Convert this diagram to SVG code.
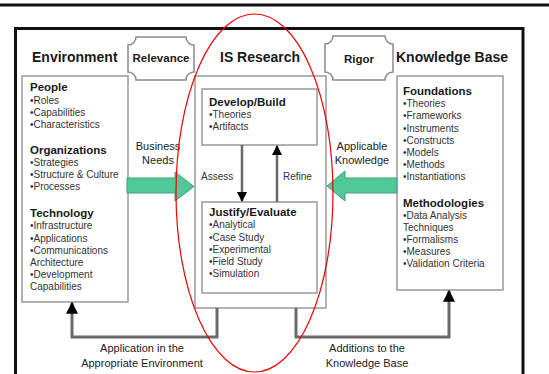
<svg xmlns="http://www.w3.org/2000/svg" width="549" height="374" viewBox="0 0 549 374">
<defs>
<style>
.hdr{font-family:"Liberation Sans",Arial,sans-serif;font-weight:bold;font-size:14px;fill:#1a1a1a}
.tag{font-family:"Liberation Sans",Arial,sans-serif;font-weight:bold;font-size:11.5px;fill:#1a1a1a;text-anchor:middle}
.ttl{font-family:"Liberation Sans",Arial,sans-serif;font-weight:bold;font-size:11.5px;fill:#1a1a1a}
.itm{font-family:"Liberation Sans",Arial,sans-serif;font-size:10px;fill:#333}
.lbl{font-family:"Liberation Sans",Arial,sans-serif;font-size:11px;fill:#222;text-anchor:middle}
.sml{font-family:"Liberation Sans",Arial,sans-serif;font-size:10px;fill:#333}
.box{fill:#fff;stroke:#999;stroke-width:1.5}
.plq{fill:#fff;stroke:#8a8a8a;stroke-width:1.5}
.con{fill:none;stroke:#6a6a6a;stroke-width:3}
.inn{fill:none;stroke:#6a6a6a;stroke-width:2.5}
.grn{fill:#4fc999;stroke:#3e9f7b;stroke-width:1}
</style>
<marker id="ah" viewBox="0 0 10 10" refX="9" refY="5" markerWidth="4" markerHeight="4" markerUnits="strokeWidth" orient="auto">
<path d="M0,0 L10,5 L0,10 Z" fill="#000"/>
</marker>
</defs>
<rect x="0" y="0" width="549" height="374" fill="#fff"/>
<line x1="0" y1="5" x2="549" y2="5" stroke="#111" stroke-width="3"/>
<path d="M15.5,380 V28.5 H523 V380" fill="none" stroke="#111" stroke-width="3"/>

<g id="headers">
<text class="hdr" x="32" y="62">Environment</text>
<text class="hdr" x="220" y="62">IS Research</text>
<text class="hdr" x="396" y="62">Knowledge Base</text>
</g>

<g id="relevance">
<path class="plq" d="M136,37 H186 A8,8 0 0 0 194,45 V72 A8,8 0 0 0 186,80 H136 A8,8 0 0 0 128,72 V45 A8,8 0 0 0 136,37 Z"/>
<text class="tag" x="161" y="62">Relevance</text>
</g>
<g id="rigor">
<path class="plq" d="M333,36 H385 A8,8 0 0 0 393,44 V72 A8,8 0 0 0 385,80 H333 A8,8 0 0 0 325,72 V44 A8,8 0 0 0 333,36 Z"/>
<text class="tag" x="359" y="63">Rigor</text>
</g>

<g id="environment">
<rect class="box" x="22" y="76" width="106" height="226"/>
<text class="ttl" x="30" y="91">People</text>
<text class="itm" x="30" y="104">•Roles</text>
<text class="itm" x="30" y="116">•Capabilities</text>
<text class="itm" x="30" y="128">•Characteristics</text>
<text class="ttl" x="30" y="154">Organizations</text>
<text class="itm" x="30" y="166">•Strategies</text>
<text class="itm" x="30" y="178">•Structure &amp; Culture</text>
<text class="itm" x="30" y="190">•Processes</text>
<text class="ttl" x="30" y="217">Technology</text>
<text class="itm" x="30" y="229">•Infrastructure</text>
<text class="itm" x="30" y="242">•Applications</text>
<text class="itm" x="30" y="254">•Communications</text>
<text class="itm" x="30" y="266">Architecture</text>
<text class="itm" x="30" y="278">•Development</text>
<text class="itm" x="30" y="290">Capabilities</text>
</g>

<g id="is-research">
<rect class="box" x="195" y="76" width="131" height="232" stroke="#aaa"/>
</g>

<g id="develop-build">
<rect class="box" x="202" y="89" width="115" height="56"/>
<text class="ttl" x="209" y="106">Develop/Build</text>
<text class="itm" x="209" y="118">•Theories</text>
<text class="itm" x="209" y="130">•Artifacts</text>
</g>

<g id="justify-evaluate">
<rect class="box" x="202" y="202" width="115" height="91"/>
<text class="ttl" x="209" y="216">Justify/Evaluate</text>
<text class="itm" x="209" y="228">•Analytical</text>
<text class="itm" x="209" y="241">•Case Study</text>
<text class="itm" x="209" y="253">•Experimental</text>
<text class="itm" x="209" y="265">•Field Study</text>
<text class="itm" x="209" y="277">•Simulation</text>
</g>

<g id="knowledge-base">
<rect class="box" x="397" y="76" width="106" height="214"/>
<text class="ttl" x="403" y="95">Foundations</text>
<text class="itm" x="403" y="107">•Theories</text>
<text class="itm" x="403" y="119">•Frameworks</text>
<text class="itm" x="403" y="132">•Instruments</text>
<text class="itm" x="403" y="144">•Constructs</text>
<text class="itm" x="403" y="156">•Models</text>
<text class="itm" x="403" y="168">•Methods</text>
<text class="itm" x="403" y="180">•Instantiations</text>
<text class="ttl" x="403" y="207">Methodologies</text>
<text class="itm" x="403" y="219">•Data Analysis</text>
<text class="itm" x="403" y="231">Techniques</text>
<text class="itm" x="403" y="243">•Formalisms</text>
<text class="itm" x="403" y="255">•Measures</text>
<text class="itm" x="403" y="267">•Validation Criteria</text>
</g>

<g id="connectors">
<polygon class="grn" points="127,178 175,178 175,172 194,186.5 175,201 175,193 127,193"/>
<polygon class="grn" points="397,178 345,178 345,171 327,186 345,201 345,193 397,193"/>
<line class="inn" x1="242" y1="145" x2="242" y2="201" marker-end="url(#ah)"/>
<line class="inn" x1="277" y1="202" x2="277" y2="146" marker-end="url(#ah)"/>
<polyline class="con" points="217,308 217,337 72,337 72,303" marker-end="url(#ah)"/>
<polyline class="con" points="296,308 296,337 449,337 449,291" marker-end="url(#ah)"/>
<text class="lbl" x="158" y="150">Business</text>
<text class="lbl" x="158" y="164">Needs</text>
<text class="lbl" x="362" y="150">Applicable</text>
<text class="lbl" x="362" y="164">Knowledge</text>
<text class="sml" x="201" y="180">Assess</text>
<text class="sml" x="283" y="180">Refine</text>
<text class="lbl" x="142" y="352">Application in the</text>
<text class="lbl" x="142" y="367">Appropriate Environment</text>
<text class="lbl" x="367" y="352">Additions to the</text>
<text class="lbl" x="367" y="367">Knowledge Base</text>
</g>

<ellipse cx="254.5" cy="193" rx="78.5" ry="179" fill="none" stroke="#e00" stroke-width="1.2"/>
</svg>
